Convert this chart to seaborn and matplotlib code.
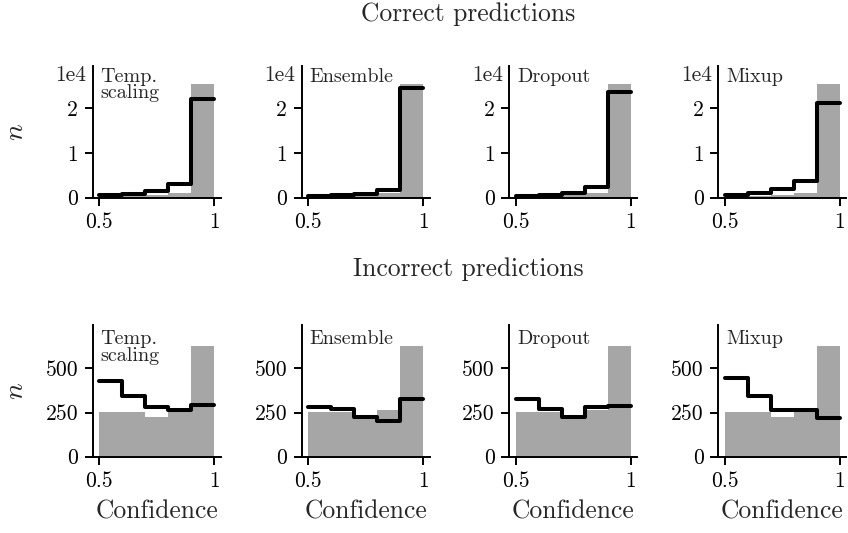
import numpy as np
import pandas as pd
import matplotlib
matplotlib.use("Agg")
import matplotlib.pyplot as plt
import seaborn as sns

# ---- data ----
bin_edges = [0.5, 0.6, 0.7, 0.8, 0.9, 1.0]
methods = ["Temp.\nscaling", "Ensemble", "Dropout", "Mixup"]

correct_reference = [200, 400, 700, 1000, 25400]
incorrect_reference = [255, 255, 225, 265, 625]

correct_temp = [500, 800, 1500, 3000, 22000]
correct_ensemble = [400, 600, 900, 1700, 24600]
correct_dropout = [400, 600, 1100, 2500, 23700]
correct_mixup = [600, 1100, 1900, 3700, 21100]

incorrect_temp = [427, 344, 282, 264, 293]
incorrect_ensemble = [282, 269, 224, 203, 327]
incorrect_dropout = [325, 269, 226, 279, 286]
incorrect_mixup = [444, 342, 267, 267, 218]

x_ticks = [0.5, 1.0]
x_tick_labels = ["0.5", "1"]
correct_yticks = [0, 10000, 20000]
correct_ytick_labels = ["0", "1", "2"]
incorrect_yticks = [0, 250, 500]
incorrect_ytick_labels = ["0", "250", "500"]

correct_rows = [correct_temp, correct_ensemble, correct_dropout, correct_mixup]
incorrect_rows = [incorrect_temp, incorrect_ensemble, incorrect_dropout, incorrect_mixup]

# ---- style ----
sns.set_style("ticks")
plt.rcParams["font.family"] = ["cmr10", "DejaVu Serif"]
plt.rcParams["mathtext.fontset"] = "cm"
plt.rcParams["axes.formatter.use_mathtext"] = False
plt.rcParams["axes.unicode_minus"] = False
plt.rcParams["axes.linewidth"] = 1.4
plt.rcParams["xtick.major.width"] = 1.4
plt.rcParams["ytick.major.width"] = 1.4
plt.rcParams["xtick.major.size"] = 5.5
plt.rcParams["ytick.major.size"] = 5.5
plt.rcParams["xtick.major.pad"] = 5
plt.rcParams["ytick.major.pad"] = 5
plt.rcParams["axes.edgecolor"] = "black"
plt.rcParams["xtick.color"] = "black"
plt.rcParams["ytick.color"] = "black"

W, H = 848, 533
fig = plt.figure(figsize=(W / 100, H / 100), dpi=100)

lefts_px = [92.7, 301.7, 509.3, 718.3]
width_px = 128
rows = [
    dict(bottom=197.7, top=65.7, ref=correct_reference, data=correct_rows,
         ylim=(0, 29500), yticks=correct_yticks, ylabels=correct_ytick_labels, offset=True,
         xlabel=False),
    dict(bottom=456.7, top=325.0, ref=incorrect_reference, data=incorrect_rows,
         ylim=(0, 745), yticks=incorrect_yticks, ylabels=incorrect_ytick_labels, offset=False,
         xlabel=True),
]

gray = "#a6a6a6"
centers = [(a + b) / 2 for a, b in zip(bin_edges[:-1], bin_edges[1:])]

for row in rows:
    for i, (left, method, vals) in enumerate(zip(lefts_px, methods, row["data"])):
        ax = fig.add_axes([left / W, 1 - row["bottom"] / H, width_px / W,
                           (row["bottom"] - row["top"]) / H])
        df_ref = pd.DataFrame({"conf": centers, "n": row["ref"]})
        df_m = pd.DataFrame({"conf": centers, "n": vals})
        sns.histplot(data=df_ref, x="conf", weights="n", bins=bin_edges, ax=ax,
                     color=gray, alpha=1, linewidth=0, edgecolor="none", element="bars")
        sns.histplot(data=df_m, x="conf", weights="n", bins=bin_edges, ax=ax,
                     element="step", fill=False, color="black", linewidth=2.9)
        ax.set_xlim(0.471, 1.028)
        ax.set_ylim(*row["ylim"])
        ax.set_xticks(x_ticks)
        ax.set_xticklabels(x_tick_labels, fontsize=15.5)
        ax.set_yticks(row["yticks"])
        ax.set_yticklabels(row["ylabels"], fontsize=15.5)
        sns.despine(ax=ax)
        ax.text(0.06, 0.985 if row["offset"] else 0.96, method, transform=ax.transAxes,
                ha="left", va="top", fontsize=14.5, linespacing=0.9)
        if row["offset"]:
            ax.text(-0.05, 1.0, "1e4", transform=ax.transAxes, ha="right", va="top",
                    fontsize=15.5)
        if i == 0:
            ax.set_ylabel("$n$", fontsize=20)
            ax.yaxis.set_label_coords(-0.50, 0.5)
        else:
            ax.set_ylabel("")
        if row["xlabel"]:
            ax.set_xlabel("Confidence", fontsize=18.4)
            ax.xaxis.set_label_coords(0.5, -0.33)
        else:
            ax.set_xlabel("")

cx = (92.7 + 844) / 2 / W
fig.text(cx, 1 - 20.7 / H, "Correct predictions", ha="center", va="baseline", fontsize=18.4)
fig.text(cx, 1 - 275.7 / H, "Incorrect predictions", ha="center", va="baseline", fontsize=18.4)

fig.savefig("out.png", dpi=100)
